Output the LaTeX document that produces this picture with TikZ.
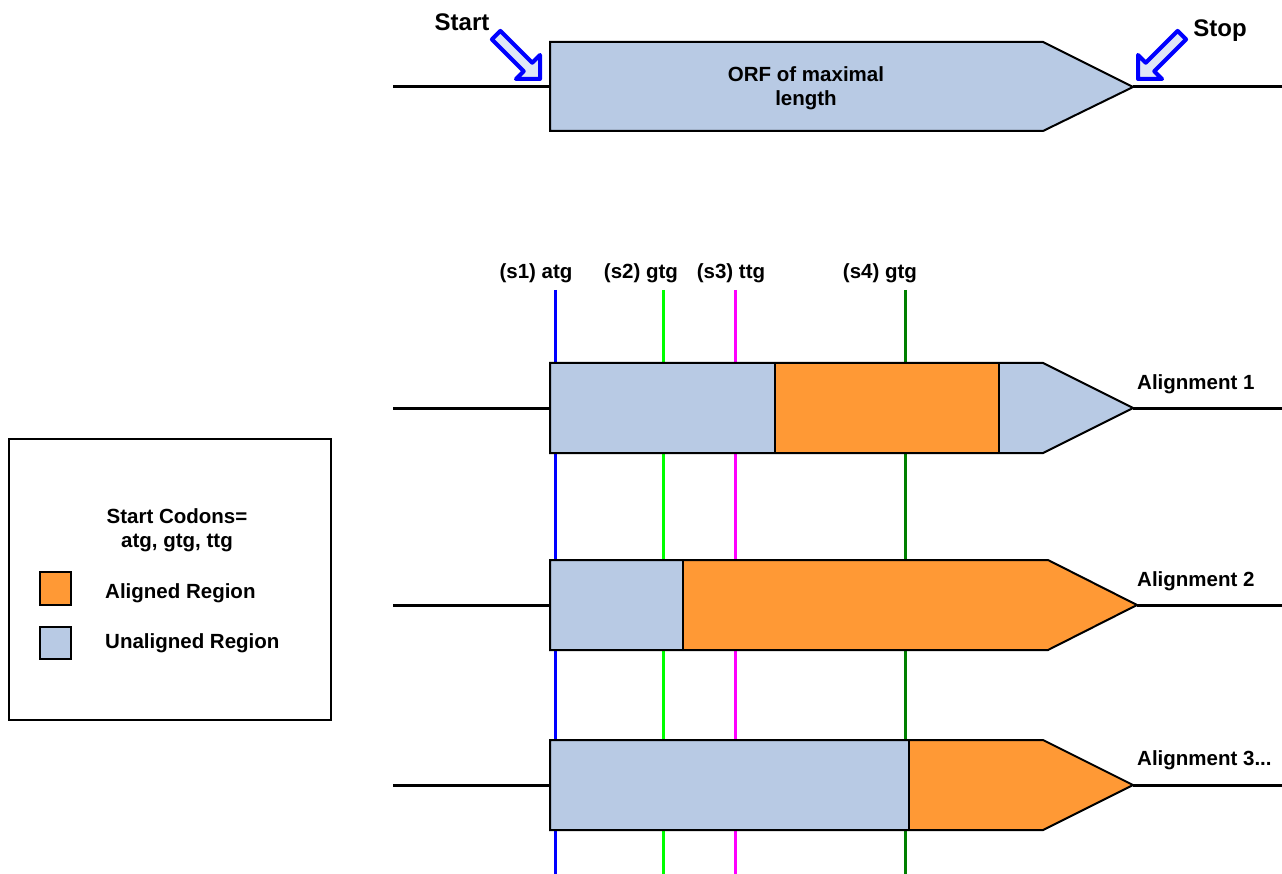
\documentclass[tikz,border=0pt]{standalone}
\usepackage{fontspec}
\setmainfont{Liberation Sans}
\definecolor{unal}{RGB}{184,202,228}
\definecolor{alig}{RGB}{255,153,53}
\definecolor{arrfill}{RGB}{222,230,246}
\definecolor{dgreen}{RGB}{0,128,0}
\definecolor{lgreen}{RGB}{0,255,0}
\definecolor{mag}{RGB}{255,0,255}
\begin{document}
\begin{tikzpicture}[x=1pt,y=-1pt,
  dna/.style={line width=3pt, black},
  outline/.style={draw=black, line width=2pt, line join=miter},
  divider/.style={draw=black, line width=1.5pt},
  codon/.style={line width=3pt},
  lbl/.style={font=\fontsize{20.5}{24}\selectfont\bfseries, inner sep=0pt},
  biglbl/.style={font=\fontsize{24}{28}\selectfont\bfseries, inner sep=0pt},
  blockarrow/.style={draw=blue, fill=arrfill, line width=4pt, line join=round}]
\useasboundingbox (0,0) rectangle (1282,874);

% ---------- top ORF ----------
\coordinate (t0) at (393,87);
\coordinate (t1) at (550,87);
\coordinate (t2) at (1133,87);
\coordinate (t3) at (1282,87);
\draw[dna] (t0) -- (t1);
\draw[dna] (t2) -- (t3);
\draw[outline, fill=unal] (550,42) -- (1043,42) -- (t2) -- (1043,131) -- (550,131) -- cycle;
\node[lbl, align=center] (orf) at (806,88) {ORF of maximal\\length};

% start arrow
\begin{scope}[shift={(540,79)}, rotate=-45]
  \draw[blockarrow] (0,0) -- (-17,17) -- (-17,6) -- (-62,6) -- (-62,-6) -- (-17,-6) -- (-17,-17) -- cycle;
\end{scope}
\node[biglbl, anchor=base] (start) at (462,31) {Start};
% stop arrow
\begin{scope}[shift={(1138,79)}, rotate=-135]
  \draw[blockarrow] (0,0) -- (-17,17) -- (-17,6) -- (-62,6) -- (-62,-6) -- (-17,-6) -- (-17,-17) -- cycle;
\end{scope}
\node[biglbl, anchor=base] (stop) at (1220,37) {Stop};

% ---------- codon lines ----------
\coordinate (c1a) at (555,290); \coordinate (c1b) at (555,874);
\coordinate (c2a) at (663,290); \coordinate (c2b) at (663,874);
\coordinate (c3a) at (735,290); \coordinate (c3b) at (735,874);
\coordinate (c4a) at (905,290); \coordinate (c4b) at (905,874);
\draw[codon, blue] (c1a) -- (c1b);
\draw[codon, lgreen] (c2a) -- (c2b);
\draw[codon, mag] (c3a) -- (c3b);
\draw[codon, dgreen] (c4a) -- (c4b);
\node[lbl, anchor=base] (s1) at (536,279) {(s1) atg};
\node[lbl, anchor=base] (s2) at (641,279) {(s2) gtg};
\node[lbl, anchor=base] (s3) at (731,279) {(s3) ttg};
\node[lbl, anchor=base] (s4) at (880,279) {(s4) gtg};

% ---------- Alignment 1 ----------
\coordinate (a0) at (393,408);
\coordinate (a1) at (550,408);
\coordinate (a2) at (1133,408);
\coordinate (a3) at (1282,408);
\draw[dna] (a0) -- (a1);
\draw[dna] (a2) -- (a3);
\fill[unal] (550,363) rectangle (775,453);
\fill[alig] (775,363) rectangle (999,453);
\fill[unal] (999,363) -- (1043,363) -- (a2) -- (1043,453) -- (999,453) -- cycle;
\draw[divider] (775,363) -- (775,453);
\draw[divider] (999,363) -- (999,453);
\draw[outline] (550,363) -- (1043,363) -- (a2) -- (1043,453) -- (550,453) -- cycle;
\node[lbl, anchor=base west] (al1) at (1137,389) {Alignment 1};

% ---------- Alignment 2 ----------
\coordinate (b0) at (393,605);
\coordinate (b1) at (550,605);
\coordinate (b2) at (1137,605);
\coordinate (b3) at (1282,605);
\draw[dna] (b0) -- (b1);
\draw[dna] (b2) -- (b3);
\fill[unal] (550,560) rectangle (683,650);
\fill[alig] (683,560) -- (1048,560) -- (b2) -- (1048,650) -- (683,650) -- cycle;
\draw[divider] (683,560) -- (683,650);
\draw[outline] (550,560) -- (1048,560) -- (b2) -- (1048,650) -- (550,650) -- cycle;
\node[lbl, anchor=base west] (al2) at (1137,586) {Alignment 2};

% ---------- Alignment 3 ----------
\coordinate (d0) at (393,785);
\coordinate (d1) at (550,785);
\coordinate (d2) at (1133,785);
\coordinate (d3) at (1282,785);
\draw[dna] (d0) -- (d1);
\draw[dna] (d2) -- (d3);
\fill[unal] (550,740) rectangle (909,830);
\fill[alig] (909,740) -- (1043,740) -- (d2) -- (1043,830) -- (909,830) -- cycle;
\draw[divider] (909,740) -- (909,830);
\draw[outline] (550,740) -- (1043,740) -- (d2) -- (1043,830) -- (550,830) -- cycle;
\node[lbl, anchor=base west] (al3) at (1137,765) {Alignment 3...};

% ---------- legend ----------
\draw[line width=1.5pt] (9,439) rectangle (331,720);
\node[lbl, anchor=base] (lg1) at (177,523) {Start Codons=};
\node[lbl, anchor=base] (lg2) at (177,547) {atg, gtg, ttg};
\draw[divider, fill=alig] (40,572) rectangle (71,605);
\node[lbl, anchor=base west] (lga) at (105,598) {Aligned Region};
\draw[divider, fill=unal] (40,627) rectangle (71,659);
\node[lbl, anchor=base west] (lgu) at (105,648) {Unaligned Region};
\end{tikzpicture}
\end{document}
